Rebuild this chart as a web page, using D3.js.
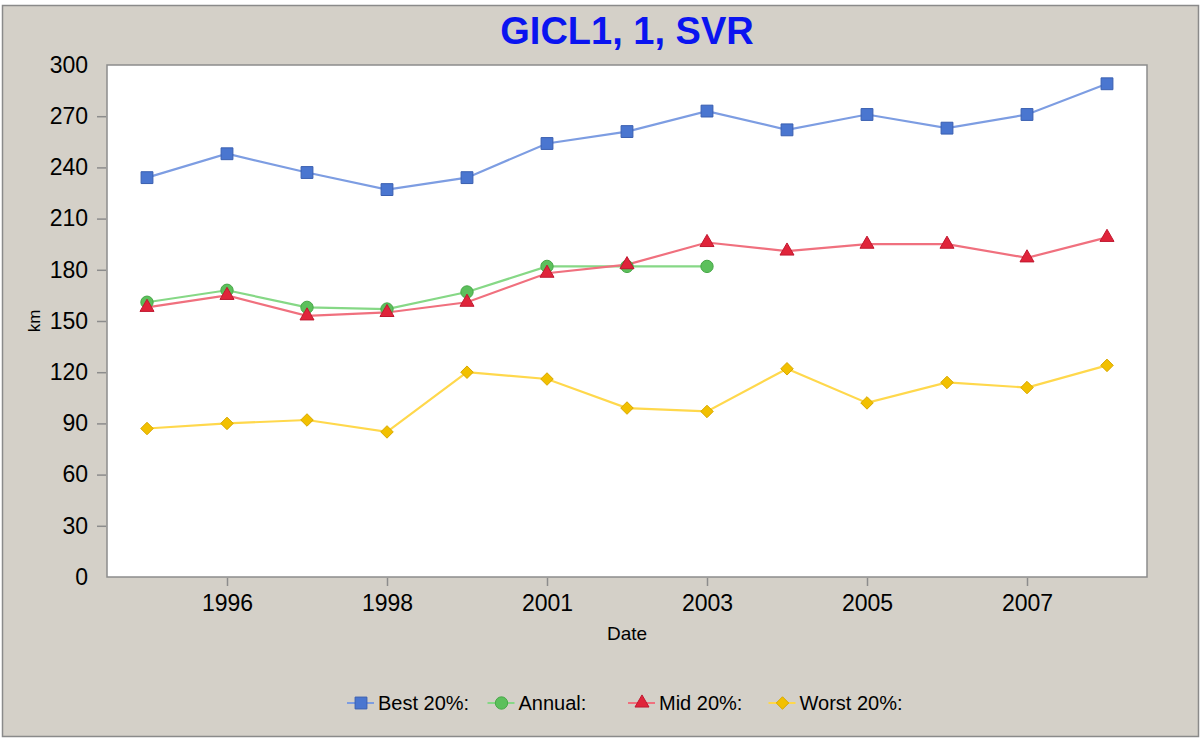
<!DOCTYPE html>
<html>
<head>
<meta charset="utf-8">
<script src="https://cdn.jsdelivr.net/npm/d3@7"></script>
<style>
  body { margin: 0; background: #ffffff; }
  svg text { font-family: "Liberation Sans", Arial, sans-serif; fill: #000; }
</style>
</head>
<body>
<svg id="chart"></svg>
<script>
// x categories (one point per period) and tick labels shown under every other point
const periods = [0, 1, 2, 3, 4, 5, 6, 7, 8, 9, 10, 11, 12];
const tickPeriods = [1, 3, 5, 7, 9, 11];
const tickLabels = ['1996', '1998', '2001', '2003', '2005', '2007'];
const yTicks = [0, 30, 60, 90, 120, 150, 180, 210, 240, 270, 300];

const best20 = [234, 248, 237, 227, 234, 254, 261, 273, 262, 271, 263, 271, 289];
const annual = [161, 168, 158, 157, 167, 182, 182, 182];
const mid20 = [158, 165, 153, 155, 161, 178, 183, 196, 191, 195, 195, 187, 199];
const worst20 = [87, 90, 92, 85, 120, 116, 99, 97, 122, 102, 114, 111, 124];

const seriesNames = ['Best 20%:', 'Annual:', 'Mid 20%:', 'Worst 20%:'];

const config = {
    width: 1201,
    height: 740,
    plot: { left: 107, top: 65, right: 1147, bottom: 577 }
};

const series = [
    { name: seriesNames[0], values: best20, symbol: d3.symbolSquare, size: 140, fill: '#4a76d0', stroke: '#3a5fb0', line: '#7d9de2' },
    { name: seriesNames[1], values: annual, symbol: d3.symbolCircle, size: 120, fill: '#5cc05c', stroke: '#48a848', line: '#86d886' },
    { name: seriesNames[2], values: mid20, symbol: d3.symbolTriangle, size: 85, fill: '#e0243a', stroke: '#c01830', line: '#f0707e' },
    { name: seriesNames[3], values: worst20, symbol: d3.symbolDiamond2, size: 100, fill: '#f2c000', stroke: '#d8a800', line: '#ffd84c' }
];

const svg = d3.select('#chart')
    .attr('width', config.width)
    .attr('height', config.height);

// window background and frame
svg.append('rect')
    .attr('x', 0).attr('y', 0)
    .attr('width', config.width).attr('height', config.height)
    .attr('fill', '#ffffff');
svg.append('rect')
    .attr('x', 2.5).attr('y', 5.5)
    .attr('width', config.width - 5).attr('height', config.height - 9)
    .attr('fill', '#d4d0c8')
    .attr('stroke', '#8a8a8a')
    .attr('stroke-width', 1.5);

const p = config.plot;

const xScale = d3.scaleLinear()
    .domain([-0.5, 12.5])
    .range([p.left, p.right]);

const yScale = d3.scaleLinear()
    .domain([0, 300])
    .range([p.bottom, p.top]);

// plot area
svg.append('rect')
    .attr('x', p.left).attr('y', p.top)
    .attr('width', p.right - p.left).attr('height', p.bottom - p.top)
    .attr('fill', '#ffffff')
    .attr('stroke', '#8c8c8c')
    .attr('stroke-width', 1.5);

// y axis
const yAxis = d3.axisLeft(yScale)
    .tickValues(yTicks)
    .tickSize(9)
    .tickPadding(9)
    .tickSizeOuter(0);

const yAxisG = svg.append('g')
    .attr('transform', `translate(${p.left - 1},0)`)
    .call(yAxis);
yAxisG.select('.domain').remove();
yAxisG.selectAll('.tick line')
    .attr('stroke', '#8c8c8c')
    .attr('stroke-width', 1.5)
    .filter(d => d === 0 || d === 300).remove();
yAxisG.selectAll('.tick text')
    .style('font-size', '23px')
    .style('font-family', '"Liberation Sans", Arial, sans-serif');

// x axis
const xAxis = d3.axisBottom(xScale)
    .tickValues(tickPeriods)
    .tickFormat((d, i) => tickLabels[i])
    .tickSize(8)
    .tickPadding(9)
    .tickSizeOuter(0);

const xAxisG = svg.append('g')
    .attr('transform', `translate(0,${p.bottom + 1})`)
    .call(xAxis);
xAxisG.select('.domain').remove();
xAxisG.selectAll('.tick line')
    .attr('stroke', '#8c8c8c')
    .attr('stroke-width', 1.5);
xAxisG.selectAll('.tick text')
    .style('font-size', '23px')
    .style('font-family', '"Liberation Sans", Arial, sans-serif');

// titles
svg.append('text')
    .attr('x', (p.left + p.right) / 2)
    .attr('y', 44)
    .attr('text-anchor', 'middle')
    .style('font-size', '38px')
    .style('font-weight', 'bold')
    .style('fill', '#0a14f0')
    .text('GICL1, 1, SVR');

svg.append('text')
    .attr('x', (p.left + p.right) / 2)
    .attr('y', 640)
    .attr('text-anchor', 'middle')
    .style('font-size', '19px')
    .text('Date');

svg.append('text')
    .attr('transform', 'rotate(-90)')
    .attr('x', -(p.top + p.bottom) / 2)
    .attr('y', 40)
    .attr('text-anchor', 'middle')
    .style('font-size', '17px')
    .text('km');

// lines and markers
const line = d3.line()
    .x((d, i) => xScale(periods[i]))
    .y(d => yScale(d));

const seriesG = svg.append('g');
series.forEach(s => {
    seriesG.append('path')
        .datum(s.values)
        .attr('fill', 'none')
        .attr('stroke', s.line)
        .attr('stroke-width', 2.2)
        .attr('d', line);
});
series.forEach(s => {
    seriesG.selectAll(null)
        .data(s.values)
        .join('path')
        .attr('transform', (d, i) => `translate(${xScale(periods[i])},${yScale(d)})`)
        .attr('d', d3.symbol().type(s.symbol).size(s.size))
        .attr('fill', s.fill)
        .attr('stroke', s.stroke)
        .attr('stroke-width', 1);
});

// legend
const legend = svg.append('g')
    .attr('transform', 'translate(347,703)');

const legendEntry = legend.selectAll('.legend-entry')
    .data(series)
    .join('g')
    .attr('class', 'legend-entry')
    .attr('transform', (d, i) => `translate(${i * 140.5},0)`);

legendEntry.append('line')
    .attr('x1', 0).attr('x2', 27)
    .attr('y1', 0).attr('y2', 0)
    .attr('stroke', d => d.line)
    .attr('stroke-width', 2);

legendEntry.append('path')
    .attr('transform', 'translate(14,0)')
    .attr('d', d => d3.symbol().type(d.symbol).size(d.size)())
    .attr('fill', d => d.fill)
    .attr('stroke', d => d.stroke)
    .attr('stroke-width', 1);

legendEntry.append('text')
    .attr('x', 31)
    .attr('y', 7)
    .style('font-size', '20px')
    .text(d => d.name);
</script>
</body>
</html>
